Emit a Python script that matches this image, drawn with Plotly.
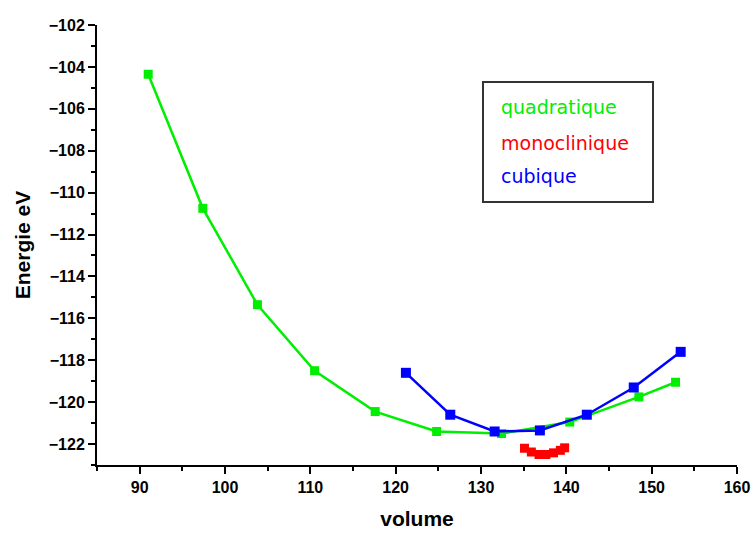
import plotly.graph_objects as go

quad_x = [91.0, 97.4, 103.8, 110.5, 117.6, 124.8, 132.4, 140.4, 148.5, 152.8]
quad_y = [-104.35, -110.75, -115.35, -118.5, -120.45, -121.4, -121.5, -120.95, -119.75, -119.05]

mono_x = [135.1, 135.9, 136.8, 137.6, 138.5, 139.3, 139.8]
mono_y = [-122.2, -122.38, -122.5, -122.5, -122.42, -122.3, -122.18]

cub_x = [121.2, 126.4, 131.6, 136.9, 142.4, 147.9, 153.4]
cub_y = [-118.6, -120.6, -121.4, -121.35, -120.6, -119.3, -117.6]

legend_names = ["quadratique", "monoclinique", "cubique"]
colors = ["#00ee00", "#ff0000", "#0000ff"]

L, R, T, B = 97, 15, 25, 69
W, H = 752, 534
PW, PH = W - L - R, H - T - B

fig = go.Figure()
fig.add_trace(go.Scatter(x=quad_x, y=quad_y, mode="lines+markers", name=legend_names[0],
                         line=dict(color=colors[0], width=2.5),
                         marker=dict(symbol="square", size=9, color=colors[0])))
fig.add_trace(go.Scatter(x=cub_x, y=cub_y, mode="lines+markers", name=legend_names[2],
                         line=dict(color=colors[2], width=2.5),
                         marker=dict(symbol="square", size=10, color=colors[2])))
fig.add_trace(go.Scatter(x=mono_x, y=mono_y, mode="lines+markers", name=legend_names[1],
                         line=dict(color=colors[1], width=4),
                         marker=dict(symbol="square", size=9, color=colors[1])))

axis_font = dict(family="Liberation Sans", size=16, color="black", weight="bold")
title_font = dict(family="Liberation Sans", size=21, color="black", weight="bold")
fig.update_layout(
    width=W, height=H,
    margin=dict(l=L, r=R, t=T, b=B),
    paper_bgcolor="white", plot_bgcolor="white",
    showlegend=False,
    xaxis=dict(range=[85, 160], dtick=10, tick0=0, showgrid=False, zeroline=False,
               automargin=False, ticklabeloverflow="allow",
               showline=True, linecolor="black", linewidth=2,
               ticks="outside", ticklen=7, tickwidth=2, tickcolor="black",
               minor=dict(ticks="outside", ticklen=4, tickwidth=2, tickcolor="black", dtick=5, tick0=0),
               tickfont=axis_font,
               title=dict(text="volume", font=title_font, standoff=16)),
    yaxis=dict(range=[-123, -102], dtick=2, tick0=0, showgrid=False, zeroline=False,
               automargin=False, ticklabeloverflow="allow",
               showline=True, linecolor="black", linewidth=2,
               ticks="outside", ticklen=7, tickwidth=2, tickcolor="black",
               minor=dict(ticks="outside", ticklen=4, tickwidth=2, tickcolor="black", dtick=1, tick0=0),
               tickfont=axis_font,
               title=dict(text="Energie eV", font=title_font, standoff=12)),
)

# legend box drawn as shape + annotations
fig.add_shape(type="rect", xref="paper", yref="paper",
              x0=(483 - L) / PW, x1=(653 - L) / PW,
              y0=(H - B - 202) / PH, y1=(H - B - 82) / PH,
              line=dict(color="#333333", width=2), fillcolor="white", layer="above")
ys = [107, 143, 176]
for name, col, yp in zip(legend_names, colors, ys):
    fig.add_annotation(text=name, xref="paper", yref="paper",
                       x=(499 - L) / PW, y=(H - B - yp) / PH,
                       xanchor="left", yanchor="middle", showarrow=False,
                       font=dict(family="DejaVu Sans", size=19, color=col))

fig.write_html("out.html")
